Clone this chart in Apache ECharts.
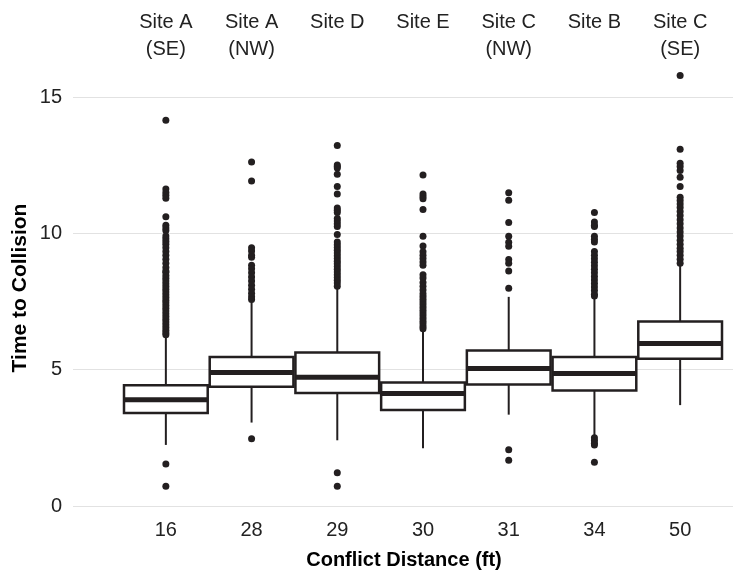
<!DOCTYPE html>
<html>
<head>
<meta charset="utf-8">
<script src="https://cdn.jsdelivr.net/npm/echarts@6/dist/echarts.min.js"></script>
<style>
html,body{margin:0;padding:0;background:#fff;}
#chart{width:733px;height:571px;}
</style>
</head>
<body>
<div id="chart"></div>
<script>
// ---- data ----
const distances = ['16', '28', '29', '30', '31', '34', '50'];
const sites = ['Site A\n(SE)', 'Site A\n(NW)', 'Site D', 'Site E', 'Site C\n(NW)', 'Site B', 'Site C\n(SE)'];
// [lower whisker, Q1, median, Q3, upper whisker]
const boxStats = [
  [2.24, 3.41, 3.90, 4.43, 6.24],
  [3.06, 4.37, 4.90, 5.46, 7.50],
  [2.41, 4.14, 4.72, 5.63, 7.99],
  [2.12, 3.52, 4.13, 4.53, 6.45],
  [3.35, 4.46, 5.04, 5.70, 7.67],
  [2.59, 4.24, 4.86, 5.46, 7.64],
  [3.70, 5.40, 5.96, 6.77, 8.83]
];
const outliers16 = [14.15, 11.63, 11.5, 11.4, 11.29, 10.61, 10.3, 10.2, 10.1, 9.9, 9.8, 9.7, 9.6, 9.47, 9.33, 9.2, 9.05, 8.9, 8.75, 8.62, 8.57, 8.45, 8.35, 8.25, 8.15, 8.05, 7.95, 7.85, 7.75, 7.65, 7.55, 7.45, 7.35, 7.25, 7.15, 7.05, 6.95, 6.85, 6.75, 6.65, 6.55, 6.45, 6.35, 6.28, 1.54, 0.72];
const outliers28 = [12.62, 11.92, 9.47, 9.35, 9.2, 9.12, 8.83, 8.7, 8.55, 8.4, 8.25, 8.1, 7.95, 7.8, 7.67, 7.57, 2.47];
const outliers29 = [13.22, 12.51, 12.45, 12.4, 12.17, 11.72, 11.44, 10.93, 10.85, 10.76, 10.54, 10.45, 10.35, 10.25, 9.96, 9.68, 9.58, 9.48, 9.38, 9.28, 9.18, 9.08, 8.98, 8.88, 8.78, 8.68, 8.58, 8.48, 8.38, 8.28, 8.18, 8.06, 1.22, 0.72];
const outliers30 = [12.14, 11.44, 11.35, 11.27, 10.87, 9.89, 9.54, 9.32, 9.2, 9.08, 8.95, 8.83, 8.48, 8.36, 8.2, 8.06, 7.92, 7.78, 7.68, 7.58, 7.48, 7.38, 7.28, 7.18, 7.08, 6.98, 6.88, 6.78, 6.68, 6.58, 6.5];
const outliers31 = [11.49, 11.21, 10.4, 9.89, 9.67, 9.53, 9.04, 8.9, 8.62, 7.99, 2.06, 1.68];
const outliers34 = [10.76, 10.42, 10.3, 10.25, 9.89, 9.78, 9.68, 9.33, 9.2, 9.07, 8.94, 8.81, 8.68, 8.55, 8.42, 8.29, 8.16, 8.03, 7.9, 7.77, 7.7, 2.5, 2.4, 2.3, 2.24, 1.6];
const outliers50 = [15.79, 13.08, 12.57, 12.45, 12.3, 12.06, 11.72, 11.32, 11.2, 11.08, 10.95, 10.8, 10.65, 10.5, 10.35, 10.2, 10.05, 9.9, 9.75, 9.6, 9.45, 9.33, 9.2, 9.05, 8.9];
const yTicks = [0, 5, 10, 15];
const xTitle = 'Conflict Distance (ft)';
const yTitle = 'Time to Collision';

// ---- build ----
const outlierLists = [outliers16, outliers28, outliers29, outliers30, outliers31, outliers34, outliers50];
const outlierData = [];
outlierLists.forEach((list, i) => list.forEach(v => outlierData.push([i, v])));
const boxData = boxStats.map((s, i) => [i].concat(s));
const ink = '#231f20';
const FONT = 'Liberation Sans, Arial, sans-serif';

const chart = echarts.init(document.getElementById('chart'), null, {renderer: 'canvas'});
chart.setOption({
  animation: false,
  backgroundColor: '#fff',
  grid: [
    {left: 73, right: 0, top: 97, bottom: 65},
    {left: 123, right: 10, top: 97, bottom: 65}
  ],
  xAxis: [
    {gridIndex: 0, type: 'value', min: 0, max: 1, show: false},
    {gridIndex: 1, type: 'category', data: distances, position: 'bottom',
      axisLine: {show: false}, axisTick: {show: false}, splitLine: {show: false},
      axisLabel: {fontSize: 20, color: '#222', fontFamily: FONT, margin: 14}},
    {gridIndex: 1, type: 'category', data: sites, position: 'top',
      axisLine: {show: false}, axisTick: {show: false}, splitLine: {show: false},
      axisLabel: {fontSize: 20, color: '#222', fontFamily: FONT, lineHeight: 27, margin: 34,
        formatter: function (v) { return v.indexOf('\n') < 0 ? v + '\n ' : v; }}}
  ],
  yAxis: [
    {gridIndex: 0, type: 'value', min: yTicks[0], max: yTicks[yTicks.length - 1], interval: 5,
      axisLine: {show: false}, axisTick: {show: false},
      splitLine: {show: true, lineStyle: {color: '#e2e2e2', width: 1}},
      axisLabel: {fontSize: 20, color: '#222', fontFamily: FONT, margin: 11}},
    {gridIndex: 1, type: 'value', min: yTicks[0], max: yTicks[yTicks.length - 1], show: false}
  ],
  graphic: [
    {type: 'text', x: 404, y: 560, style: {text: xTitle, fontSize: 20, fontWeight: 'bold', fontFamily: FONT, fill: '#000', align: 'center', verticalAlign: 'middle'}},
    {type: 'text', x: 20, y: 288, rotation: Math.PI / 2, style: {text: yTitle, fontSize: 21, fontWeight: 'bold', fontFamily: FONT, fill: '#000', align: 'center', verticalAlign: 'middle'}}
  ],
  series: [
    {
      type: 'custom', xAxisIndex: 1, yAxisIndex: 1, data: boxData, z: 2,
      renderItem: function (params, api) {
        const idx = api.value(0);
        const lo = api.coord([idx, api.value(1)]);
        const q1 = api.coord([idx, api.value(2)]);
        const md = api.coord([idx, api.value(3)]);
        const q3 = api.coord([idx, api.value(4)]);
        const hi = api.coord([idx, api.value(5)]);
        const w = api.size([1, 0])[0] - 2;
        const x = lo[0];
        return {
          type: 'group',
          children: [
            {type: 'line', shape: {x1: x, y1: q3[1], x2: x, y2: hi[1]}, style: {stroke: ink, lineWidth: 2}},
            {type: 'line', shape: {x1: x, y1: q1[1], x2: x, y2: lo[1]}, style: {stroke: ink, lineWidth: 2}},
            {type: 'rect', shape: {x: x - w / 2, y: q3[1], width: w, height: q1[1] - q3[1]}, style: {fill: '#fff', stroke: ink, lineWidth: 2.5}},
            {type: 'line', shape: {x1: x - w / 2, y1: md[1], x2: x + w / 2, y2: md[1]}, style: {stroke: ink, lineWidth: 5}}
          ]
        };
      }
    },
    {
      type: 'scatter', xAxisIndex: 1, yAxisIndex: 1, data: outlierData, clip: false, z: 3,
      symbol: 'circle', symbolSize: 7, itemStyle: {color: ink, opacity: 1}
    }
  ]
});
</script>
</body>
</html>
